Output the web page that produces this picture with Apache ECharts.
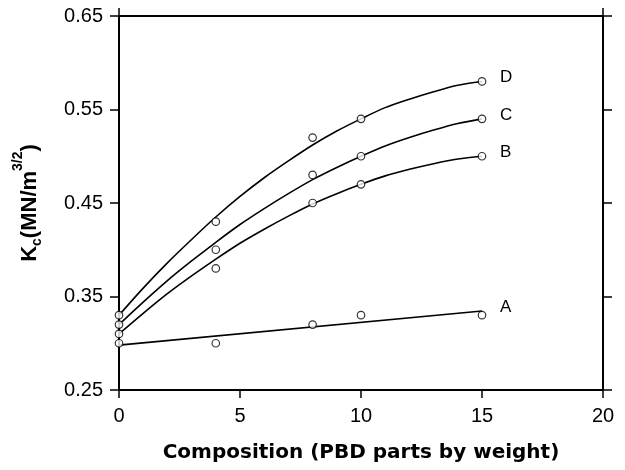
<!DOCTYPE html>
<html>
<head>
<meta charset="utf-8">
<script src="https://cdn.jsdelivr.net/npm/echarts@6/dist/echarts.min.js"></script>
<style>html,body{margin:0;padding:0;background:#fff}#c{width:625px;height:470px}</style>
</head>
<body>
<div id="c"></div>
<script>
// Measured points (composition, Kc)
const compositions = [0, 4, 8, 10, 15];
const kcA = [0.30, 0.30, 0.32, 0.33, 0.33];
const kcB = [0.31, 0.38, 0.45, 0.47, 0.50];
const kcC = [0.32, 0.40, 0.48, 0.50, 0.54];
const kcD = [0.33, 0.43, 0.52, 0.54, 0.58];

// Fitted curves
const curveX = [0,1,2,3,4,5,6,7,8,9,10,11,12,13,14,15];
const curveB = [0.310,0.332,0.353,0.372,0.390,0.407,0.422,0.436,0.449,0.460,0.470,0.479,0.486,0.492,0.497,0.500];
const curveC = [0.320,0.344,0.367,0.388,0.408,0.427,0.444,0.460,0.475,0.488,0.500,0.511,0.520,0.528,0.535,0.540];
const curveD = [0.330,0.359,0.386,0.411,0.435,0.457,0.477,0.495,0.512,0.527,0.540,0.552,0.561,0.569,0.576,0.580];
const lineAX = [0, 15];
const lineA = [0.298, 0.3345];

const curveNames = ['A', 'B', 'C', 'D'];
const xTicks = [0, 5, 10, 15, 20];
const yTicks = [0.25, 0.35, 0.45, 0.55, 0.65];

const zip = (xs, ys) => xs.map((x, i) => [x, ys[i]]);
const font = 'Liberation Sans, Arial, sans-serif';
const wide = 'DejaVu Sans, sans-serif';

const lineStyle = { color: '#000', width: 1.6 };
function curve(name, xs, ys) {
  return {
    type: 'line', name: name, data: zip(xs, ys), smooth: 0.3,
    symbol: 'none', lineStyle: lineStyle, z: 2, silent: true,
    endLabel: { show: true, formatter: name, distance: 18, offset: [0, -4],
      color: '#000', fontFamily: font, fontSize: 17 }
  };
}
function pts(ys) {
  return {
    type: 'scatter', data: zip(compositions, ys), symbol: 'circle', symbolSize: 7.5,
    itemStyle: { color: '#fff', borderColor: '#000', borderWidth: 1.2 }, z: 5
  };
}

const chart = echarts.init(document.getElementById('c'), null, { renderer: 'canvas' });
const axisLine = { show: true, onZero: false, lineStyle: { color: '#000', width: 2 } };
chart.setOption({
  animation: false,
  grid: { left: 119, right: 22, top: 16, bottom: 80 },
  xAxis: [{
    type: 'value', min: xTicks[0], max: xTicks[xTicks.length - 1], interval: 5,
    position: 'bottom',
    axisLine: axisLine,
    axisTick: { show: true, inside: false, length: 8, lineStyle: { color: '#000', width: 1.5 } },
    axisLabel: { margin: 16, color: '#000', fontFamily: font, fontSize: 20 },
    splitLine: { show: false },
    name: 'Composition (PBD parts by weight)', nameLocation: 'middle', nameGap: 53,
    nameTextStyle: { color: '#000', fontFamily: wide, fontSize: 20, fontWeight: 'bold' }
  }, {
    type: 'value', min: xTicks[0], max: xTicks[xTicks.length - 1], interval: 5,
    position: 'top',
    axisLine: axisLine,
    axisTick: { show: true, inside: false, length: 8, customValues: [0, 20], lineStyle: { color: '#000', width: 1.5 } },
    axisLabel: { show: false }, splitLine: { show: false }
  }],
  yAxis: [{
    type: 'value', min: yTicks[0], max: yTicks[yTicks.length - 1], interval: 0.1,
    position: 'left',
    axisLine: axisLine,
    axisTick: { show: true, inside: false, length: 9, lineStyle: { color: '#000', width: 1.5 } },
    axisLabel: { margin: 16, color: '#000', fontFamily: font, fontSize: 20, formatter: v => v.toFixed(2) },
    splitLine: { show: false },
    name: '{k|K}{sub|c}{k|(MN/m}{sup|3/2}{k|)}', nameLocation: 'middle', nameGap: 78, nameRotate: 90,
    nameTextStyle: {
      color: '#000', fontFamily: font, fontSize: 22, fontWeight: 'bold',
      rich: {
        k: { fontFamily: font, fontSize: 22, fontWeight: 'bold', color: '#000', lineHeight: 30, verticalAlign: 'bottom' },
        sub: { fontFamily: font, fontSize: 14, fontWeight: 'bold', color: '#000', lineHeight: 30, verticalAlign: 'bottom', padding: [0, 0, -3, 0] },
        sup: { fontFamily: font, fontSize: 14, fontWeight: 'bold', color: '#000', lineHeight: 30, verticalAlign: 'top' }
      }
    }
  }, {
    type: 'value', min: yTicks[0], max: yTicks[yTicks.length - 1], interval: 0.1,
    position: 'right',
    axisLine: axisLine,
    axisTick: { show: true, inside: false, length: 9, lineStyle: { color: '#000', width: 1.5 } },
    axisLabel: { show: false }, splitLine: { show: false }
  }],
  series: [
    curve(curveNames[0], lineAX, lineA),
    curve(curveNames[1], curveX, curveB),
    curve(curveNames[2], curveX, curveC),
    curve(curveNames[3], curveX, curveD),
    pts(kcA), pts(kcB), pts(kcC), pts(kcD)
  ]
});
</script>
</body>
</html>
